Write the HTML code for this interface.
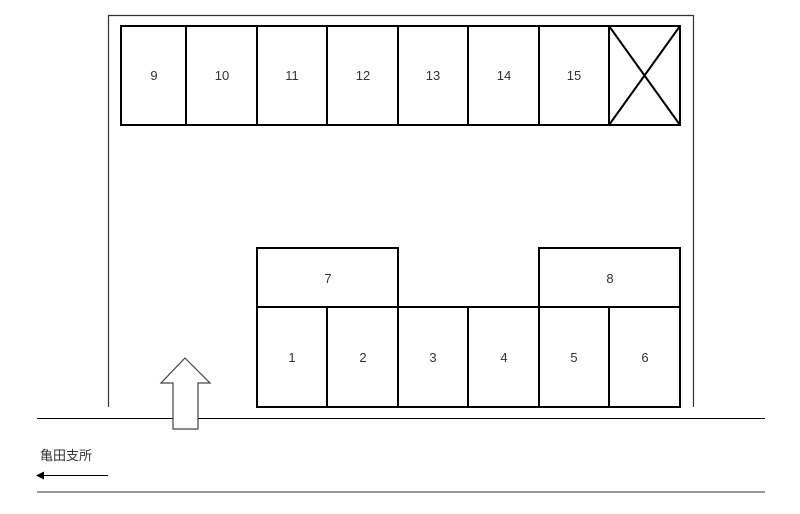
<!DOCTYPE html>
<html><head><meta charset="utf-8"><style>html,body{margin:0;padding:0;background:#fff;}svg{display:block;}</style></head>
<body>
<svg width="800" height="514" viewBox="0 0 800 514" xmlns="http://www.w3.org/2000/svg" font-family="Liberation Sans, Noto Sans CJK JP, sans-serif">
<rect width="800" height="514" fill="#fff"/>
<polyline points="108.5,407 108.5,15.5 693.5,15.5 693.5,407" fill="none" stroke="#333" stroke-width="1.2"/>
<g fill="none" stroke="#000" stroke-width="2">
<rect x="121" y="26" width="559" height="99"/>
<line x1="186" y1="26" x2="186" y2="125"/><line x1="257" y1="26" x2="257" y2="125"/><line x1="327" y1="26" x2="327" y2="125"/><line x1="398" y1="26" x2="398" y2="125"/><line x1="468" y1="26" x2="468" y2="125"/><line x1="539" y1="26" x2="539" y2="125"/><line x1="609" y1="26" x2="609" y2="125"/>
<line x1="609" y1="26" x2="680" y2="125"/><line x1="680" y1="26" x2="609" y2="125"/>
<rect x="257" y="248" width="141" height="59"/>
<rect x="539" y="248" width="141" height="59"/>
<rect x="257" y="307" width="423" height="100"/>
<line x1="327" y1="307" x2="327" y2="407"/><line x1="398" y1="307" x2="398" y2="407"/><line x1="468" y1="307" x2="468" y2="407"/><line x1="539" y1="307" x2="539" y2="407"/><line x1="609" y1="307" x2="609" y2="407"/>
</g>
<g font-size="13" fill="#333" text-anchor="middle">
<text x="154" y="80">9</text><text x="222" y="80">10</text><text x="292" y="80">11</text><text x="363" y="80">12</text><text x="433" y="80">13</text><text x="504" y="80">14</text><text x="574" y="80">15</text>
<text x="328" y="283">7</text><text x="610" y="283">8</text>
<text x="292" y="362">1</text><text x="363" y="362">2</text><text x="433" y="362">3</text><text x="504" y="362">4</text><text x="574" y="362">5</text><text x="645" y="362">6</text>
</g>
<line x1="37" y1="418.5" x2="765" y2="418.5" stroke="#000" stroke-width="1"/>
<line x1="37" y1="492" x2="765" y2="492" stroke="#333" stroke-width="1"/>
<polygon points="185,358 210,383 198,383 198,429 173,429 173,383 161,383" fill="#fff" stroke="#444" stroke-width="1.2"/>
<text x="40" y="460" font-size="13" fill="#333">亀田支所</text>
<line x1="44" y1="475.5" x2="108" y2="475.5" stroke="#000" stroke-width="1"/>
<polygon points="36,475.5 44,471.5 44,479.5" fill="#000"/>
</svg>
</body></html>
